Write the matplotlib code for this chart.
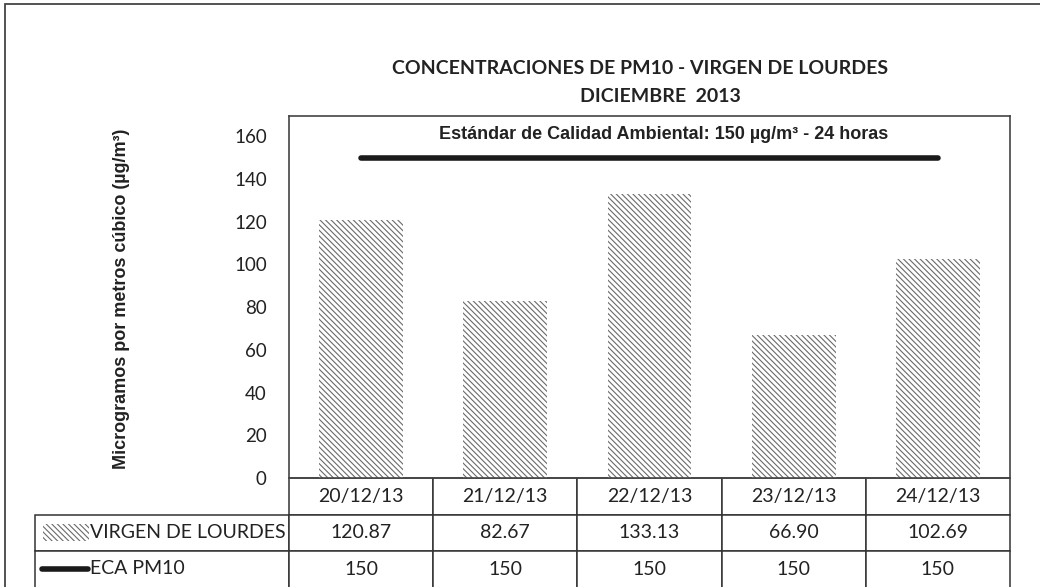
import numpy as np
import matplotlib.pyplot as plt
from matplotlib.table import Table
from matplotlib.patches import Rectangle
from matplotlib.lines import Line2D

# Data
#----------------------------------------------------
fechas = ["20/12/13", "21/12/13", "22/12/13", "23/12/13", "24/12/13"]
virgen = [120.87, 82.67, 133.13, 66.90, 102.69]
eca = [150, 150, 150, 150, 150]
yticks = [0, 20, 40, 60, 80, 100, 120, 140, 160]

W, H = 1040, 587
fig = plt.figure(figsize=(W / 100, H / 100), dpi=100)

# pixel helpers
def fx(px): return px / W
def fy(py): return 1 - py / H

L, R, T, B = 289, 1010, 116, 478
ax = fig.add_axes([fx(L), fy(B), fx(R) - fx(L), fy(T) - fy(B)])

HATCH = '\\\\\\\\\\\\'
x = np.arange(len(fechas))
plt.rcParams['hatch.color'] = '#6a6a6a'
plt.rcParams['hatch.linewidth'] = 0.8
ax.bar(x, virgen, width=0.58, color='white', edgecolor='#6a6a6a', linewidth=0,
       hatch=HATCH)
ax.plot(x, eca, color='#1a1a1a', linewidth=4, solid_capstyle='round')

ax.set_xlim(-0.5, len(fechas) - 0.5)
ax.set_ylim(0, 169.5)
ax.set_yticks(yticks)
ax.set_yticklabels([str(v) for v in yticks], fontsize=13.5, family='Lato', color='#222222')
ax.tick_params(axis='y', length=0, pad=16)
ax.set_xticks([])
for s in ax.spines.values():
    s.set_color('#444444')
    s.set_linewidth(1.2)

ax.text(2.1, 161, "Estándar de Calidad Ambiental: 150 µg/m³ - 24 horas",
        ha='center', va='center', fontsize=13, fontweight='bold',
        family='Liberation Sans', color='#222222')

fig.text(fx(122), fy(299), "Microgramos por metros cúbico (µg/m³)", rotation=90,
         ha='center', va='center', fontsize=13, fontweight='bold',
         family='Liberation Sans', color='#222222')

fig.text(fx(640), fy(68), "CONCENTRACIONES DE PM10 - VIRGEN DE LOURDES",
         ha='center', va='center', fontsize=14, fontweight='bold',
         family='Lato', color='#222222')
fig.text(fx(660), fy(96), "DICIEMBRE  2013", ha='center', va='center',
         fontsize=14, fontweight='bold', family='Lato', color='#222222')

# Data table below the plot
#----------------------------------------------------
tab_left = 35
col_w = (R - L) / len(fechas)
lab_w = L - tab_left
row_h = 36.5
n_rows = 3
tbl = Table(ax, bbox=[(tab_left - L) / (R - L), -(n_rows * row_h) / (B - T),
                      (R - tab_left) / (R - L), (n_rows * row_h) / (B - T)])
tbl.auto_set_font_size(False)
rows = [fechas, ["%.2f" % v for v in virgen], [str(v) for v in eca]]
for r in range(n_rows):
    c = tbl.add_cell(r, 0, width=lab_w, height=row_h, text="", loc='left')
    c.set_edgecolor('none' if r == 0 else '#333333')
    for j, val in enumerate(rows[r]):
        c = tbl.add_cell(r, j + 1, width=col_w, height=row_h, text=val, loc='center')
        c.set_edgecolor('#333333')
        c.get_text().set_fontsize(14)
        c.get_text().set_family('Lato')
        c.get_text().set_color('#222222')
for cell in tbl.get_celld().values():
    cell.set_linewidth(1.1)
    cell.set_facecolor('white')
ax.add_table(tbl)

# legend keys in table
fig.add_artist(Rectangle((fx(43), fy(541)), fx(89) - fx(43), fy(524) - fy(541),
                         transform=fig.transFigure, facecolor='white',
                         edgecolor='#6a6a6a', linewidth=0, hatch=HATCH))
fig.text(fx(90), fy(533), "VIRGEN DE LOURDES", ha='left', va='center',
         fontsize=14, family='Lato', color='#222222')
fig.add_artist(Line2D([fx(42), fx(88)], [fy(569), fy(569)], transform=fig.transFigure,
                      color='#1a1a1a', linewidth=4, solid_capstyle='round'))
fig.text(fx(90), fy(569), "ECA PM10", ha='left', va='center',
         fontsize=14, family='Lato', color='#222222')

# outer frame
fig.add_artist(Rectangle((fx(5), fy(600)), fx(1060) - fx(5), fy(4) - fy(600),
                         transform=fig.transFigure, facecolor='none',
                         edgecolor='#444444', linewidth=1.3))

fig.savefig("out.png", dpi=100)
